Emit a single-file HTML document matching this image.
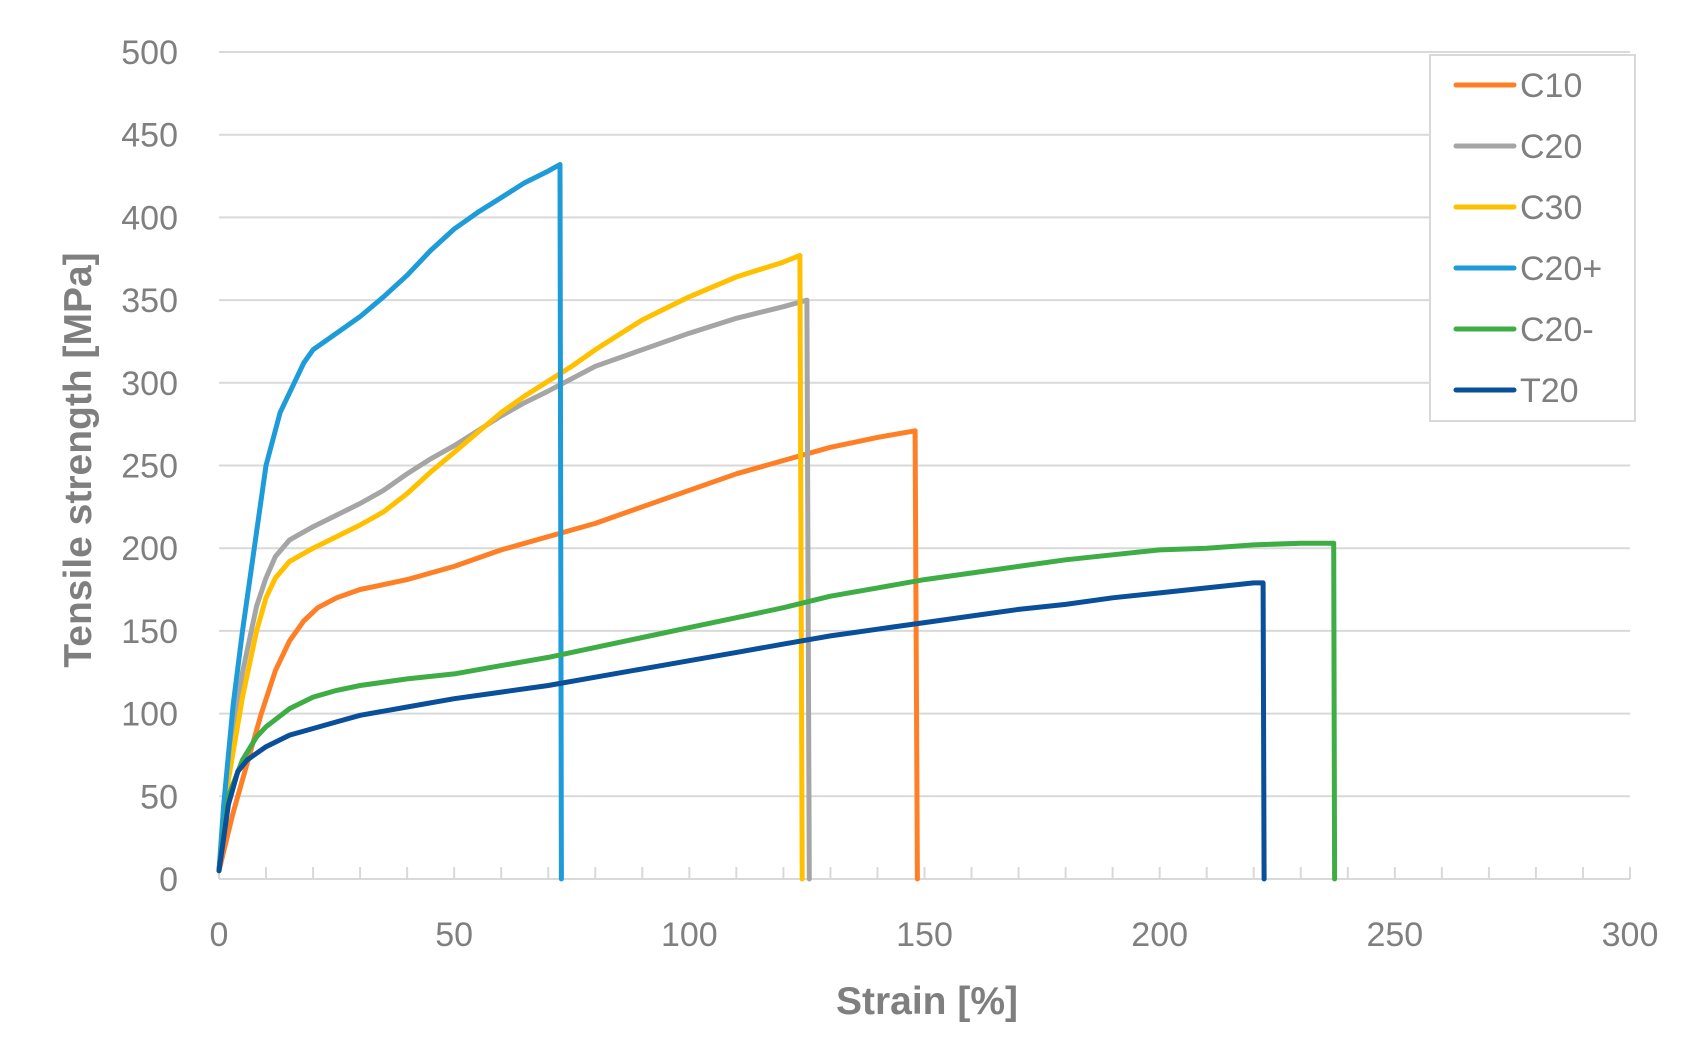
<!DOCTYPE html>
<html><head><meta charset="utf-8"><style>
html,body{margin:0;padding:0;background:#fff;}
svg{display:block;font-family:"Liberation Sans",sans-serif;}
</style></head><body>
<svg id="chart" width="1700" height="1047" viewBox="0 0 1700 1047" xmlns="http://www.w3.org/2000/svg">
<rect x="0" y="0" width="1700" height="1047" fill="#fff"/>
<g id="grid"></g><g id="axes"></g><g id="series"></g><g id="legend"></g>
<text x="927" y="1014" text-anchor="middle" font-size="39" font-weight="bold" fill="#7f7f7f">Strain [%]</text>
<text transform="translate(91,460) rotate(-90)" text-anchor="middle" font-size="39" font-weight="bold" fill="#7f7f7f">Tensile strength [MPa]</text>
</svg>
<script>
const xTicks=[0,50,100,150,200,250,300];
const yTicks=[0,50,100,150,200,250,300,350,400,450,500];
const seriesNames=["C10","C20","C30","C20+","C20-","T20"];
const seriesColors=["#ff7f27","#a5a5a5","#ffc000","#1e9cd9","#3fad46","#0a4f9a"];
const c10=[[0,5],[3,40],[6,70],[9,100],[12,126],[15,144],[18,156],[21,164],[25,170],[30,175],[35,178],[40,181],[45,185],[50,189],[55,194],[60,199],[70,207],[80,215],[90,225],[100,235],[110,245],[120,253],[130,261],[140,267],[148,271],[148.5,0]];
const c20=[[0,5],[2,65],[5,125],[8,165],[10,182],[12,195],[15,205],[20,213],[25,220],[30,227],[35,235],[40,245],[45,254],[50,262],[55,271],[60,280],[65,288],[70,295],[80,310],[90,320],[100,330],[110,339],[120,346],[125,350],[125.5,0]];
const c30=[[0,5],[2,60],[5,110],[8,150],[10,170],[12,182],[15,192],[20,200],[25,207],[30,214],[35,222],[40,233],[45,246],[50,258],[55,270],[60,282],[65,292],[70,301],[75,310],[80,320],[90,338],[100,352],[110,364],[120,373],[123.5,377],[124,0]];
const c20plus=[[0,5],[1,45],[3,105],[5,150],[8,210],[10,250],[13,282],[16,300],[18,312],[20,320],[23,326],[25,330],[30,340],[35,352],[40,365],[45,380],[50,393],[55,403],[60,412],[65,421],[70,428],[72.5,432],[72.8,0]];
const c20minus=[[0,5],[2,50],[5,72],[8,86],[10,92],[15,103],[20,110],[25,114],[30,117],[40,121],[50,124],[60,129],[70,134],[80,140],[90,146],[100,152],[110,158],[120,164],[130,171],[140,176],[150,181],[160,185],[170,189],[180,193],[190,196],[200,199],[210,200],[220,202],[230,203],[237,203],[237.2,0]];
const t20=[[0,5],[2,45],[4,65],[6,72],[10,80],[15,87],[20,91],[25,95],[30,99],[40,104],[50,109],[60,113],[70,117],[80,122],[90,127],[100,132],[110,137],[120,142],[130,147],[140,151],[150,155],[160,159],[170,163],[180,166],[190,170],[200,173],[210,176],[220,179],[222,179],[222.2,0]];
const seriesData=[c10,c20,c30,c20plus,c20minus,t20];

const NS="http://www.w3.org/2000/svg";
const X0=219,X1=1630,Y0=879,Y1=52;
const sx=v=>X0+(v-0)/300*(X1-X0);
const sy=v=>Y0-(v-0)/500*(Y0-Y1);
function mk(tag,attrs,parent){const e=document.createElementNS(NS,tag);for(const k in attrs)e.setAttribute(k,attrs[k]);parent.appendChild(e);return e;}
const grid=document.getElementById('grid'),axes=document.getElementById('axes'),ser=document.getElementById('series'),leg=document.getElementById('legend');
yTicks.forEach(v=>{
  if(v>0){const l=mk('line',{x1:X0,x2:X1,y1:sy(v),y2:sy(v),stroke:'#d9d9d9','stroke-width':2},grid);
  
  }
  const t=mk('text',{x:178,y:sy(v)+12,'text-anchor':'end','font-size':34,fill:'#7f7f7f'},axes);
  t.textContent=v;
  
  
});
const ax=mk('line',{x1:X0,x2:X1,y1:Y0,y2:Y0,stroke:'#d9d9d9','stroke-width':2},axes);


for(let v=0;v<=300;v+=10){
  const tk=mk('line',{x1:sx(v),x2:sx(v),y1:Y0,y2:Y0-12,stroke:'#d9d9d9','stroke-width':2},axes);
  
  
}
xTicks.forEach(v=>{
  const t=mk('text',{x:sx(v),y:946,'text-anchor':'middle','font-size':34,fill:'#7f7f7f'},axes);
  t.textContent=v;
  
  
});
seriesData.forEach((d,i)=>{
  const p=mk('polyline',{points:d.map(q=>sx(q[0]).toFixed(1)+','+sy(q[1]).toFixed(1)).join(' '),fill:'none',stroke:seriesColors[i],'stroke-width':5,'stroke-linejoin':'round','stroke-linecap':'round'},ser);
  
  
});
const box=mk('rect',{x:1430,y:55,width:205,height:366,fill:'#fff',stroke:'#d9d9d9','stroke-width':2},leg);


seriesNames.forEach((n,i)=>{
  const y=85+i*61;
  const g=mk('g',{},leg);
  
  
  mk('line',{x1:1456,x2:1514,y1:y,y2:y,stroke:seriesColors[i],'stroke-width':5,'stroke-linecap':'round'},g);
  const t=mk('text',{x:1520,y:y+12,'font-size':34,fill:'#7f7f7f'},g);
  t.textContent=n;
});
</script>
</body></html>
